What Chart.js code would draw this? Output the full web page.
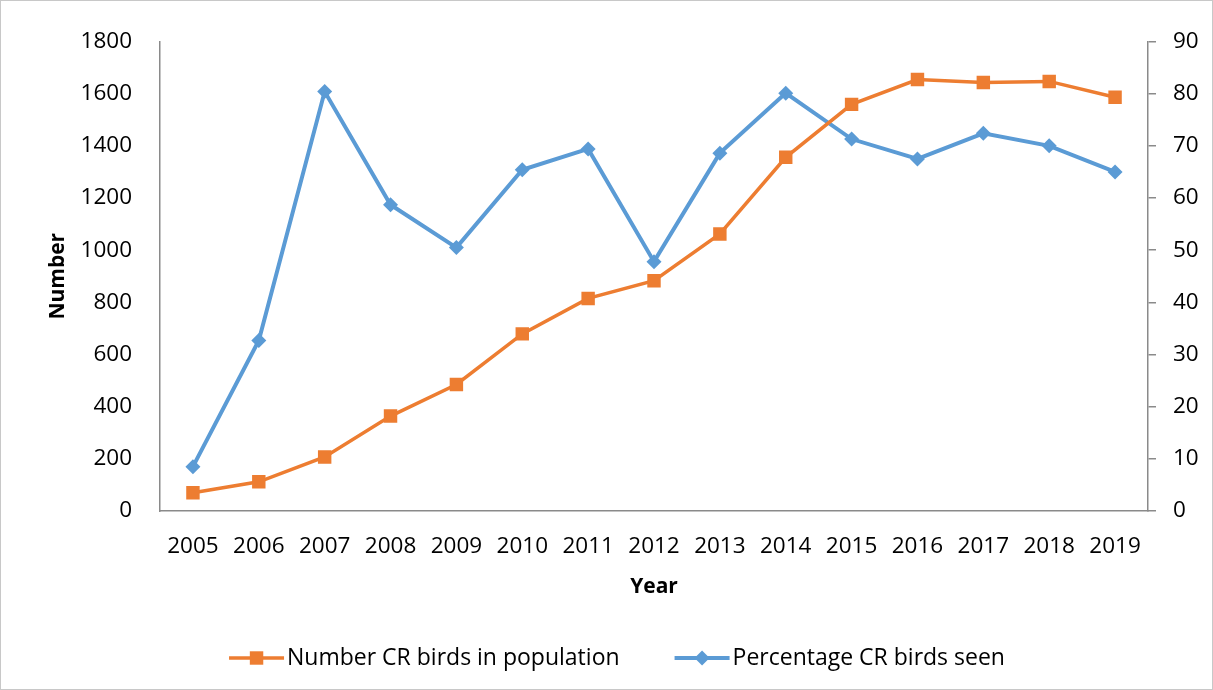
<!DOCTYPE html>
<html>
<head>
<meta charset="UTF-8">
<title>CR birds</title>
<script src="https://cdn.jsdelivr.net/npm/chart.js"></script>
<style>
  html, body { margin: 0; padding: 0; background: #fff; }
  #wrap { width: 1213px; height: 690px; position: relative; }
</style>
</head>
<body>
<div id="wrap"><canvas id="grafico"></canvas></div>
<script>
// data
const anos = ['2005','2006','2007','2008','2009','2010','2011','2012','2013','2014','2015','2016','2017','2018','2019'];
const numeroCR = [70, 112, 207, 364, 485, 679, 815, 883, 1062, 1356, 1559, 1654, 1643, 1647, 1586];
const percentCR = [8.5, 32.7, 80.4, 58.7, 50.5, 65.4, 69.4, 47.8, 68.6, 80.1, 71.3, 67.5, 72.4, 70.0, 65.0];
const nomeSeries = ['Number CR birds in population', 'Percentage CR birds seen'];

const laranja = '#ED7D31';
const azul = '#5B9BD5';
const cinza = '#8a8a8a';
const fonte = "'Open Sans', sans-serif";

// legend drawn under the plot: line + marker + text
const legendaPlugin = {
  id: 'legendaPlugin',
  afterDraw(chart) {
    const ctx = chart.ctx;
    const y = 658;
    const linha = 55, gapTexto = 3, gapItem = 55;
    ctx.save();
    ctx.font = '23px ' + fonte;
    const larguras = chart.data.datasets.map(d => ctx.measureText(d.label).width);
    const total = larguras.reduce((a, b) => a + b, 0) + chart.data.datasets.length * (linha + gapTexto) + gapItem;
    let x = 617 - total / 2;
    chart.data.datasets.forEach((d, i) => {
      ctx.strokeStyle = d.borderColor;
      ctx.lineWidth = d.borderWidth;
      ctx.beginPath();
      ctx.moveTo(x, y);
      ctx.lineTo(x + linha, y);
      ctx.stroke();
      ctx.fillStyle = d.backgroundColor;
      ctx.strokeStyle = d.backgroundColor;
      Chart.helpers.drawPoint(ctx, {
        pointStyle: d.pointStyle, radius: d.pointRadius, borderWidth: 0, rotation: 0
      }, x + linha / 2, y);
      ctx.fillStyle = '#000';
      ctx.textBaseline = 'middle';
      ctx.textAlign = 'left';
      ctx.fillText(d.label, x + linha + gapTexto, y);
      x += linha + gapTexto + larguras[i] + gapItem;
    });
    // outer frame
    ctx.strokeStyle = '#c8c8c8';
    ctx.lineWidth = 1;
    ctx.strokeRect(0.5, 0.5, chart.width - 1, chart.height - 1);
    ctx.restore();
  }
};

new Chart(document.getElementById('grafico'), {
  type: 'line',
  data: {
    labels: anos,
    datasets: [{
      label: nomeSeries[0],
      data: numeroCR,
      yAxisID: 'y',
      borderColor: laranja,
      backgroundColor: laranja,
      borderWidth: 3.5,
      pointStyle: 'rect',
      pointRadius: 9.5,
      pointBorderWidth: 0,
      pointHoverRadius: 9.5,
      tension: 0
    }, {
      label: nomeSeries[1],
      data: percentCR,
      yAxisID: 'y1',
      borderColor: azul,
      backgroundColor: azul,
      borderWidth: 4,
      pointStyle: 'rectRot',
      pointRadius: 7.5,
      pointBorderWidth: 0,
      pointHoverRadius: 7.5,
      tension: 0
    }]
  },
  options: {
    responsive: true,
    maintainAspectRatio: false,
    animation: false,
    layout: { padding: { top: 40, left: 0, right: 0, bottom: 79 } },
    plugins: {
      legend: { display: false },
      tooltip: { enabled: false }
    },
    scales: {
      x: {
        offset: true,
        grid: { display: false, drawTicks: false },
        border: { display: true, color: cinza, width: 1.5 },
        ticks: { color: '#000', font: { family: fonte, size: 22.5 }, padding: 22, maxRotation: 0, autoSkip: false },
        title: { display: true, text: 'Year', color: '#000', font: { family: fonte, size: 21, weight: 'bold' }, padding: { top: 0, bottom: 11 } },
        afterFit: s => { s.height = 100; }
      },
      y: {
        position: 'left',
        min: 0, max: 1800,
        grid: { display: false, drawTicks: false },
        border: { display: true, color: cinza, width: 1.5 },
        ticks: { stepSize: 200, color: '#000', font: { family: fonte, size: 22.5 }, padding: 28, callback: v => String(v) },
        title: { display: true, text: 'Number', color: '#000', font: { family: fonte, size: 21, weight: 'bold' }, padding: { top: 45, bottom: 0 } },
        afterFit: s => { s.width = 160; }
      },
      y1: {
        position: 'right',
        min: 0, max: 90,
        grid: { drawOnChartArea: false, drawTicks: true, tickLength: 8, color: cinza, lineWidth: 1.5 },
        border: { display: true, color: cinza, width: 1.5 },
        ticks: { stepSize: 10, color: '#000', font: { family: fonte, size: 22.5 }, padding: 17 },
        afterFit: s => { s.width = 65; }
      }
    }
  },
  plugins: [legendaPlugin]
});
</script>
</body>
</html>
